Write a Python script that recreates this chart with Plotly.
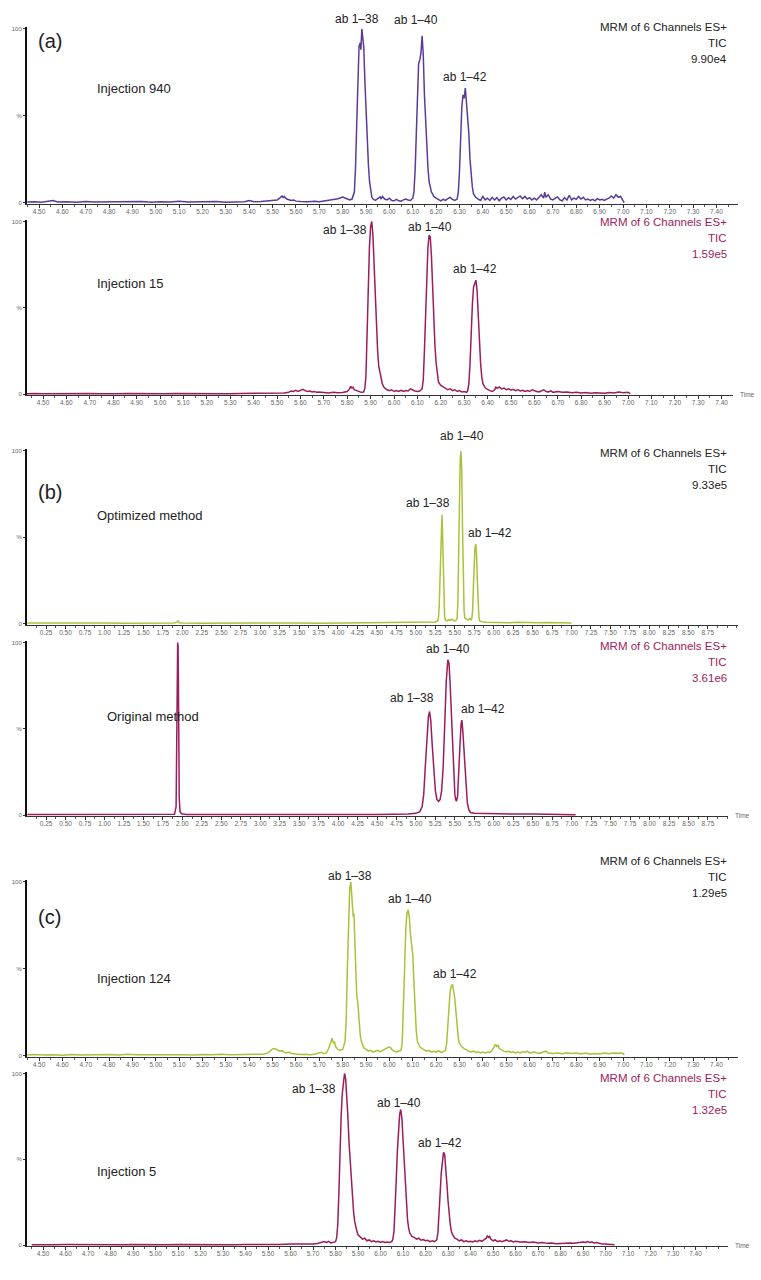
import plotly.graph_objects as go

W, H = 761, 1280
PURPLE = "#5b3b98"
MAGENTA = "#9c1c5c"
GREEN = "#a9c23a"
INK = "#222222"
FONT = "Liberation Sans, Arial, sans-serif"

# ---------------- tick labels ----------------
ac_ticks = [4.50, 4.60, 4.70, 4.80, 4.90, 5.00, 5.10, 5.20, 5.30, 5.40, 5.50, 5.60, 5.70, 5.80, 5.90,
            6.00, 6.10, 6.20, 6.30, 6.40, 6.50, 6.60, 6.70, 6.80, 6.90, 7.00, 7.10, 7.20, 7.30, 7.40]
b_ticks = [0.25, 0.50, 0.75, 1.00, 1.25, 1.50, 1.75, 2.00, 2.25, 2.50, 2.75, 3.00, 3.25, 3.50, 3.75,
           4.00, 4.25, 4.50, 4.75, 5.00, 5.25, 5.50, 5.75, 6.00, 6.25, 6.50, 6.75, 7.00, 7.25, 7.50,
           7.75, 8.00, 8.25, 8.50, 8.75]
y_tickvals = [0, 50, 100]
y_ticktext = ["0", "%", "100"]

# ---------------- chromatogram data (time [min], intensity [%]) ----------------
a1_points = [
    (4.45, 0.3), (4.48, 0.5), (4.51, 0.2), (4.54, 0.6), (4.56, 1.2), (4.58, 0.3), (4.62, 0.5), (4.66, 0.2),
    (4.70, 0.6), (4.74, 0.3), (4.78, 0.4), (4.82, 0.2), (4.86, 0.5), (4.90, 0.3), (4.94, 0.6), (4.98, 0.2),
    (5.02, 0.5), (5.06, 0.3), (5.10, 0.7), (5.14, 0.3), (5.18, 0.5), (5.22, 0.3), (5.26, 0.6), (5.30, 0.2),
    (5.34, 0.5), (5.38, 0.4), (5.40, 1.2), (5.42, 0.5), (5.45, 0.6), (5.48, 0.9), (5.50, 1.2), (5.52, 1.5),
    (5.53, 2.5), (5.54, 3.8), (5.545, 2.8), (5.55, 3.5), (5.56, 2.0), (5.57, 1.8), (5.58, 1.2), (5.59, 1.5),
    (5.60, 0.8), (5.62, 0.6), (5.65, 0.4), (5.68, 0.7), (5.70, 0.5), (5.72, 0.9), (5.74, 1.2), (5.76, 1.8),
    (5.78, 2.2), (5.80, 3.2), (5.81, 2.4), (5.82, 2.0), (5.83, 1.5), (5.84, 2.0), (5.85, 6), (5.855, 20),
    (5.86, 45), (5.865, 72), (5.87, 90), (5.875, 92), (5.878, 88), (5.882, 100), (5.886, 96), (5.89, 90),
    (5.895, 70), (5.90, 52), (5.905, 35), (5.91, 22), (5.915, 12), (5.92, 6), (5.925, 3), (5.93, 2),
    (5.94, 1.2), (5.95, 2.2), (5.96, 3.2), (5.965, 2.0), (5.97, 3.5), (5.98, 2.0), (5.99, 1.5), (6.00, 2.5),
    (6.01, 1.2), (6.02, 1.0), (6.03, 1.8), (6.04, 1.0), (6.05, 0.8), (6.06, 1.5), (6.07, 2.0), (6.08, 1.5),
    (6.09, 1.2), (6.10, 2.5), (6.105, 6), (6.11, 18), (6.115, 40), (6.12, 65), (6.125, 80), (6.13, 82),
    (6.135, 86), (6.14, 96), (6.145, 85), (6.15, 62), (6.155, 45), (6.16, 30), (6.165, 20), (6.17, 12),
    (6.175, 8), (6.18, 6), (6.185, 5), (6.19, 3.5), (6.20, 2.5), (6.21, 1.5), (6.22, 1.0), (6.23, 1.8),
    (6.24, 1.2), (6.25, 2.2), (6.26, 3.0), (6.27, 1.8), (6.28, 1.2), (6.29, 2.0), (6.295, 6), (6.30, 18),
    (6.305, 40), (6.31, 55), (6.315, 62), (6.32, 60), (6.325, 66), (6.33, 58), (6.335, 50), (6.34, 40),
    (6.345, 25), (6.35, 15), (6.355, 9), (6.36, 5), (6.37, 3), (6.38, 2), (6.39, 1.2), (6.40, 3.5),
    (6.41, 1.5), (6.42, 2.5), (6.43, 1.2), (6.44, 3.0), (6.45, 1.5), (6.46, 2.8), (6.47, 1.0), (6.48, 2.5),
    (6.49, 3.2), (6.50, 1.5), (6.51, 2.8), (6.52, 1.8), (6.53, 3.5), (6.54, 2.0), (6.55, 3.0), (6.56, 3.8),
    (6.57, 2.2), (6.58, 3.5), (6.59, 2.0), (6.60, 2.8), (6.61, 1.5), (6.62, 2.5), (6.63, 1.5), (6.64, 3.0),
    (6.65, 4.5), (6.66, 2.5), (6.665, 6.0), (6.67, 3.0), (6.68, 4.5), (6.69, 2.0), (6.70, 1.5), (6.71, 2.5),
    (6.72, 3.2), (6.73, 1.5), (6.74, 1.0), (6.75, 2.8), (6.76, 1.5), (6.77, 4.2), (6.78, 1.5), (6.79, 2.5),
    (6.80, 1.8), (6.81, 3.5), (6.82, 2.0), (6.83, 3.0), (6.84, 1.5), (6.85, 2.0), (6.86, 1.2), (6.87, 1.8),
    (6.88, 1.0), (6.89, 2.2), (6.90, 1.5), (6.91, 1.8), (6.92, 1.2), (6.93, 2.0), (6.94, 2.5), (6.95, 3.8),
    (6.96, 2.5), (6.97, 4.5), (6.98, 3.0), (6.99, 3.5), (7.00, 1.0), (7.005, 0),
]

a2_points = [
    (4.43, 0.2), (4.46, 0.4), (4.50, 0.2), (4.54, 0.3), (4.58, 0.2), (4.62, 0.4), (4.66, 0.2), (4.70, 0.3),
    (4.74, 0.2), (4.78, 0.4), (4.82, 0.2), (4.86, 0.3), (4.90, 0.2), (4.94, 0.4), (4.98, 0.3), (5.02, 0.2),
    (5.06, 0.4), (5.10, 0.3), (5.14, 0.2), (5.18, 0.4), (5.22, 0.2), (5.26, 0.3), (5.30, 0.2), (5.34, 0.4),
    (5.38, 0.5), (5.42, 0.3), (5.46, 0.5), (5.50, 0.4), (5.53, 0.6), (5.55, 1.0), (5.56, 1.8), (5.57, 1.5),
    (5.58, 2.2), (5.59, 1.6), (5.60, 2.0), (5.61, 2.8), (5.62, 2.0), (5.63, 1.5), (5.64, 1.8), (5.65, 1.2),
    (5.66, 1.5), (5.67, 1.0), (5.68, 1.2), (5.70, 0.8), (5.72, 0.6), (5.74, 1.0), (5.76, 0.7), (5.78, 0.9),
    (5.80, 1.5), (5.81, 3.0), (5.815, 4.5), (5.82, 3.5), (5.825, 4.0), (5.83, 2.5), (5.84, 2.0), (5.85, 1.5),
    (5.86, 1.0), (5.87, 1.2), (5.875, 3), (5.88, 10), (5.885, 30), (5.89, 60), (5.895, 85), (5.90, 97),
    (5.905, 100), (5.91, 92), (5.915, 75), (5.92, 55), (5.925, 38), (5.93, 25), (5.935, 16), (5.94, 12),
    (5.945, 9), (5.95, 6), (5.955, 4.5), (5.96, 3.5), (5.97, 2.5), (5.98, 2.0), (5.99, 2.5), (6.00, 1.5),
    (6.01, 2.0), (6.02, 1.5), (6.03, 2.2), (6.04, 1.5), (6.05, 2.0), (6.06, 1.8), (6.07, 3.0), (6.08, 2.2),
    (6.09, 1.8), (6.10, 1.5), (6.11, 1.8), (6.12, 3), (6.125, 8), (6.13, 25), (6.135, 50), (6.14, 72),
    (6.145, 85), (6.15, 92), (6.155, 91), (6.16, 80), (6.165, 60), (6.17, 42), (6.175, 28), (6.18, 18),
    (6.185, 11), (6.19, 7), (6.20, 5), (6.21, 4), (6.22, 3.2), (6.23, 2.5), (6.24, 3.0), (6.25, 2.0),
    (6.26, 2.5), (6.27, 1.5), (6.28, 2.0), (6.29, 1.2), (6.30, 1.5), (6.31, 1.0), (6.315, 2), (6.32, 6),
    (6.325, 18), (6.33, 38), (6.335, 52), (6.34, 62), (6.345, 64), (6.35, 66), (6.355, 60), (6.36, 45),
    (6.365, 30), (6.37, 18), (6.375, 10), (6.38, 6), (6.39, 3.5), (6.40, 2.5), (6.41, 2.0), (6.42, 1.5),
    (6.43, 2.5), (6.435, 4.0), (6.44, 3.5), (6.45, 4.0), (6.46, 3.0), (6.47, 3.5), (6.48, 2.5), (6.49, 3.0),
    (6.50, 2.2), (6.51, 2.8), (6.52, 2.0), (6.53, 2.5), (6.54, 1.8), (6.55, 2.2), (6.56, 1.5), (6.57, 2.0),
    (6.58, 1.5), (6.59, 2.5), (6.60, 1.8), (6.61, 1.5), (6.62, 1.2), (6.63, 2.0), (6.64, 2.5), (6.65, 1.5),
    (6.66, 1.2), (6.67, 1.8), (6.68, 1.0), (6.70, 1.5), (6.72, 1.0), (6.74, 1.2), (6.76, 0.8), (6.78, 1.0),
    (6.80, 0.6), (6.82, 0.9), (6.84, 0.5), (6.86, 0.8), (6.88, 0.6), (6.90, 0.5), (6.92, 0.9), (6.94, 0.6),
    (6.96, 1.2), (6.98, 0.8), (7.00, 1.0), (7.01, 0.3),
]

b1_points = [
    (0.01, 0.3), (0.25, 0.2), (0.50, 0.3), (0.75, 0.2), (1.00, 0.3), (1.25, 0.2), (1.50, 0.3), (1.75, 0.2),
    (1.90, 0.3), (1.93, 0.8), (1.945, 1.5), (1.96, 0.5), (2.00, 0.3), (2.25, 0.2), (2.50, 0.3), (2.75, 0.2),
    (3.00, 0.3), (3.25, 0.2), (3.50, 0.3), (3.75, 0.2), (4.00, 0.3), (4.25, 0.2), (4.50, 0.3), (4.75, 0.3),
    (5.00, 0.4), (5.10, 0.5), (5.20, 0.7), (5.25, 0.9), (5.28, 1.5), (5.29, 3), (5.30, 10), (5.31, 28),
    (5.32, 48), (5.33, 60), (5.336, 63), (5.34, 58), (5.35, 38), (5.36, 15), (5.37, 4), (5.38, 2.0),
    (5.40, 1.5), (5.42, 2.2), (5.44, 1.8), (5.46, 2.5), (5.48, 2.0), (5.50, 1.5), (5.52, 2.0), (5.53, 3),
    (5.54, 12), (5.55, 40), (5.56, 75), (5.57, 95), (5.58, 100), (5.59, 88), (5.60, 55), (5.61, 22),
    (5.62, 7), (5.63, 3), (5.65, 2.5), (5.67, 2.0), (5.69, 3.0), (5.71, 2.2), (5.72, 3), (5.73, 8),
    (5.74, 22), (5.75, 36), (5.76, 44), (5.77, 46), (5.78, 40), (5.79, 25), (5.80, 10), (5.81, 4),
    (5.82, 1.5), (5.85, 1.0), (5.90, 0.8), (6.00, 0.6), (6.10, 0.8), (6.20, 0.5), (6.30, 0.7), (6.40, 0.5),
    (6.50, 0.6), (6.60, 0.4), (6.70, 0.6), (6.80, 0.5), (6.90, 0.6), (7.00, 0.3),
]

b2_points = [
    (0.01, 0.3), (0.50, 0.3), (1.00, 0.3), (1.50, 0.3), (1.85, 0.3), (1.90, 0.5), (1.92, 5), (1.93, 45),
    (1.935, 85), (1.94, 100), (1.945, 98), (1.95, 75), (1.955, 35), (1.96, 10), (1.97, 2), (1.99, 0.8),
    (2.05, 0.4), (2.50, 0.3), (3.00, 0.3), (3.50, 0.3), (4.00, 0.3), (4.50, 0.4), (4.80, 0.5), (4.90, 0.7),
    (5.00, 1.0), (5.05, 2), (5.08, 5), (5.10, 12), (5.12, 28), (5.14, 45), (5.16, 57), (5.175, 60),
    (5.19, 55), (5.21, 40), (5.23, 25), (5.25, 14), (5.27, 9), (5.29, 8), (5.31, 9), (5.33, 14),
    (5.35, 28), (5.37, 52), (5.39, 78), (5.41, 90), (5.425, 88), (5.44, 75), (5.46, 50), (5.48, 25),
    (5.50, 12), (5.51, 9), (5.52, 8), (5.535, 11), (5.55, 22), (5.565, 40), (5.58, 53), (5.59, 55),
    (5.60, 50), (5.62, 36), (5.64, 18), (5.66, 7), (5.68, 3), (5.70, 1.5), (5.75, 1.0), (5.90, 0.8),
    (6.10, 0.7), (6.30, 0.6), (6.50, 0.6), (6.70, 0.5), (6.90, 0.5), (7.00, 0.4), (7.05, 0.2),
]

c1_points = [
    (4.45, 0.3), (4.48, 0.6), (4.52, 0.3), (4.56, 0.5), (4.60, 0.2), (4.64, 0.6), (4.68, 0.3), (4.72, 0.5),
    (4.76, 0.3), (4.80, 0.6), (4.84, 0.3), (4.88, 0.7), (4.92, 0.4), (4.96, 0.5), (5.00, 0.3), (5.04, 0.6),
    (5.08, 0.4), (5.12, 0.5), (5.16, 0.3), (5.20, 0.6), (5.24, 0.4), (5.28, 0.8), (5.32, 0.5), (5.36, 0.6),
    (5.40, 0.9), (5.42, 0.6), (5.44, 1.0), (5.46, 0.8), (5.48, 1.5), (5.49, 2.5), (5.50, 3.8), (5.51, 4.0),
    (5.52, 3.2), (5.53, 2.5), (5.54, 2.8), (5.55, 1.8), (5.56, 1.5), (5.57, 2.0), (5.58, 1.2), (5.60, 0.8),
    (5.62, 0.6), (5.64, 0.8), (5.66, 0.5), (5.68, 0.7), (5.70, 1.2), (5.71, 1.8), (5.72, 1.0), (5.73, 1.5),
    (5.74, 4), (5.75, 9), (5.755, 10), (5.76, 7), (5.765, 8), (5.77, 5), (5.78, 3.5), (5.79, 3),
    (5.80, 3.5), (5.81, 8), (5.815, 20), (5.82, 50), (5.825, 80), (5.83, 96), (5.835, 100), (5.84, 92),
    (5.845, 80), (5.848, 82), (5.852, 65), (5.856, 45), (5.86, 35), (5.865, 30), (5.87, 20), (5.875, 12),
    (5.88, 8), (5.885, 6), (5.89, 4.5), (5.90, 3.5), (5.91, 2.5), (5.92, 3.0), (5.93, 2.0), (5.94, 2.5),
    (5.95, 3.0), (5.96, 2.2), (5.97, 2.8), (5.98, 3.5), (5.99, 4.0), (6.00, 5.0), (6.005, 4.5), (6.01, 3.5),
    (6.02, 2.5), (6.03, 2.0), (6.04, 2.5), (6.05, 3), (6.055, 8), (6.06, 25), (6.065, 50), (6.07, 72),
    (6.075, 82), (6.08, 84), (6.085, 80), (6.09, 70), (6.095, 62), (6.10, 58), (6.105, 42), (6.11, 25),
    (6.115, 14), (6.12, 8), (6.13, 5), (6.14, 4), (6.15, 3), (6.16, 2.5), (6.17, 3.0), (6.18, 2.0),
    (6.19, 2.5), (6.20, 2.0), (6.21, 2.8), (6.22, 1.8), (6.23, 2.2), (6.24, 3), (6.245, 7), (6.25, 18),
    (6.255, 30), (6.26, 37), (6.265, 40), (6.27, 41), (6.275, 37), (6.28, 33), (6.285, 25), (6.29, 16),
    (6.295, 10), (6.30, 7), (6.31, 5), (6.32, 4), (6.33, 3), (6.34, 2.5), (6.35, 2.0), (6.36, 2.5),
    (6.37, 1.8), (6.38, 2.2), (6.39, 1.5), (6.40, 2.0), (6.41, 1.5), (6.42, 2.0), (6.43, 1.8), (6.44, 3),
    (6.45, 5.5), (6.455, 6.5), (6.46, 5), (6.465, 6), (6.47, 4), (6.48, 3), (6.49, 2.5), (6.50, 2.0),
    (6.51, 2.5), (6.52, 1.8), (6.53, 2.2), (6.54, 1.5), (6.55, 2.0), (6.56, 1.5), (6.57, 2.2), (6.58, 1.8),
    (6.59, 2.5), (6.60, 1.5), (6.62, 2.0), (6.64, 1.2), (6.66, 1.8), (6.67, 2.5), (6.68, 1.5), (6.70, 1.2),
    (6.72, 1.5), (6.74, 1.0), (6.76, 1.6), (6.78, 1.2), (6.80, 1.5), (6.82, 0.9), (6.84, 1.4), (6.86, 0.8),
    (6.88, 1.2), (6.90, 0.9), (6.92, 1.4), (6.94, 1.0), (6.96, 1.5), (6.98, 1.2), (7.00, 1.3), (7.005, 0.2),
]

c2_points = [
    (4.45, 0.2), (4.50, 0.4), (4.55, 0.2), (4.60, 0.3), (4.65, 0.2), (4.70, 0.4), (4.75, 0.2), (4.80, 0.3),
    (4.85, 0.2), (4.90, 0.4), (4.95, 0.2), (5.00, 0.3), (5.05, 0.2), (5.10, 0.4), (5.15, 0.3), (5.20, 0.2),
    (5.25, 0.4), (5.30, 0.3), (5.35, 0.2), (5.40, 0.4), (5.45, 0.3), (5.50, 0.5), (5.55, 0.3), (5.60, 0.6),
    (5.65, 0.4), (5.70, 0.6), (5.72, 0.9), (5.74, 1.5), (5.75, 2.0), (5.76, 1.5), (5.77, 2.2), (5.78, 1.2),
    (5.79, 1.5), (5.80, 2), (5.805, 4), (5.81, 12), (5.815, 30), (5.82, 55), (5.825, 75), (5.83, 88),
    (5.835, 96), (5.84, 100), (5.845, 97), (5.85, 88), (5.855, 75), (5.86, 60), (5.865, 48), (5.87, 38),
    (5.875, 28), (5.88, 20), (5.885, 14), (5.89, 10), (5.895, 8), (5.90, 6), (5.91, 4.5), (5.92, 3.5),
    (5.93, 4.0), (5.94, 2.5), (5.95, 3.0), (5.96, 2.0), (5.97, 2.5), (5.98, 1.8), (5.99, 2.2), (6.00, 1.5),
    (6.01, 2.0), (6.02, 1.5), (6.03, 1.8), (6.04, 1.5), (6.05, 2.0), (6.055, 3.5), (6.06, 8), (6.065, 20),
    (6.07, 38), (6.075, 55), (6.08, 68), (6.085, 76), (6.09, 79), (6.095, 74), (6.10, 62), (6.105, 48),
    (6.11, 35), (6.115, 24), (6.12, 15), (6.125, 10), (6.13, 7), (6.14, 5), (6.15, 4.5), (6.16, 3.5),
    (6.17, 4.0), (6.18, 2.8), (6.19, 3.2), (6.20, 2.5), (6.21, 2.8), (6.22, 2.0), (6.23, 2.5), (6.24, 2.0),
    (6.25, 3), (6.255, 7), (6.26, 16), (6.265, 30), (6.27, 42), (6.275, 50), (6.28, 54), (6.285, 53),
    (6.29, 46), (6.295, 36), (6.30, 26), (6.305, 18), (6.31, 12), (6.315, 8), (6.32, 6), (6.33, 4),
    (6.34, 3.5), (6.35, 2.5), (6.36, 3.0), (6.37, 2.0), (6.38, 2.5), (6.39, 2.0), (6.40, 2.2), (6.41, 1.8),
    (6.42, 2.5), (6.43, 2.0), (6.44, 2.8), (6.45, 2.2), (6.46, 3.0), (6.47, 4.0), (6.475, 5.5), (6.48, 4.5),
    (6.485, 5.0), (6.49, 3.5), (6.50, 2.5), (6.51, 3.0), (6.52, 2.0), (6.53, 2.5), (6.54, 2.0), (6.55, 2.5),
    (6.56, 3.0), (6.57, 2.2), (6.58, 2.5), (6.59, 1.8), (6.60, 2.2), (6.62, 1.8), (6.64, 2.0), (6.66, 1.5),
    (6.68, 1.8), (6.70, 1.2), (6.72, 1.5), (6.74, 1.0), (6.76, 1.2), (6.78, 0.8), (6.80, 1.0), (6.82, 0.8),
    (6.84, 1.2), (6.86, 1.0), (6.88, 1.5), (6.90, 1.8), (6.91, 1.5), (6.92, 2.0), (6.93, 1.5), (6.94, 1.8),
    (6.95, 1.2), (6.96, 1.5), (6.98, 0.8), (7.00, 0.6), (7.02, 0.3), (7.04, 0.2),
]

peak_names = ["ab 1\u201338", "ab 1\u201340", "ab 1\u201342"]
header = ["MRM of 6 Channels ES+", "TIC"]
scales = ["9.90e4", "1.59e5", "9.33e5", "3.61e6", "1.29e5", "1.32e5"]
samples = ["Injection 940", "Injection 15", "Optimized method", "Original method", "Injection 124", "Injection 5"]
letters = {0: "(a)", 2: "(b)", 4: "(c)"}

# ---------------- layout geometry (pixels) ----------------
panels = [
    dict(pts=a1_points, color=PURPLE, hdr=INK, x0=27, x1=738, xr=[4.4486, 7.4923], top=28, base=202,
         ticks=ac_ticks, minor=0.05, time=False, sx=95, sy=88, ly=40,
         labels=[(357, 18), (416, 19), (465, 76)], hy=26),
    dict(pts=a2_points, color=MAGENTA, hdr=MAGENTA, x0=27, x1=733, xr=[4.4316, 7.4487], top=221, base=394,
         ticks=ac_ticks, minor=0.05, time=True, sx=95, sy=283, ly=None,
         labels=[(345, 230), (430, 227), (475, 269)], hy=222),
    dict(pts=b1_points, color=GREEN, hdr=INK, x0=27, x1=738, xr=[0.005, 9.1388], top=451, base=624,
         ticks=b_ticks, minor=0.125, time=False, sx=95, sy=516, ly=492,
         labels=[(428, 503), (462, 436), (490, 533)], hy=453),
    dict(pts=b2_points, color=MAGENTA, hdr=MAGENTA, x0=27, x1=728, xr=[0.005, 9.0077], top=643, base=816,
         ticks=b_ticks, minor=0.125, time=True, sx=105, sy=717, ly=None,
         labels=[(412, 699), (448, 650), (483, 710)], hy=647),
    dict(pts=c1_points, color=GREEN, hdr=INK, x0=27, x1=738, xr=[4.4486, 7.4923], top=883, base=1057,
         ticks=ac_ticks, minor=0.05, time=False, sx=95, sy=980, ly=918,
         labels=[(350, 877), (410, 900), (455, 975)], hy=862),
    dict(pts=c2_points, color=MAGENTA, hdr=MAGENTA, x0=27, x1=728, xr=[4.4289, 7.5444], top=1075, base=1247,
         ticks=ac_ticks, minor=0.05, time=True, sx=95, sy=1173, ly=None,
         labels=[(314, 1091), (399, 1105), (440, 1145)], hy=1080),
]

YMIN, YMAX = -0.8, 101.0


def px(x):
    return x / W


def py(y):
    return 1 - y / H


fig = go.Figure()
annotations = []
layout_axes = {}

for i, p in enumerate(panels):
    n = "" if i == 0 else str(i + 1)
    s = (p["base"] - p["top"]) / 100.0
    d_bot = p["base"] - YMIN * s
    d_top = p["top"] - (YMAX - 100) * s
    t = [q[0] for q in p["pts"]]
    v = [q[1] for q in p["pts"]]
    fig.add_trace(go.Scatter(x=t, y=v, mode="lines", line=dict(color=p["color"], width=1.5),
                             xaxis="x" + n, yaxis="y" + n, showlegend=False, hoverinfo="skip"))
    layout_axes["xaxis" + n] = dict(
        domain=[px(p["x0"]), px(p["x1"])], range=p["xr"], anchor="y" + n,
        showline=True, linecolor="#333333", linewidth=1, showgrid=False, zeroline=False,
        tickmode="array", tickvals=p["ticks"], ticktext=["%.2f" % k for k in p["ticks"]],
        ticks="outside", ticklen=3, tickwidth=1, tickcolor="#333333", ticklabelstandoff=-2,
        tickfont=dict(size=6.5, color="#666666", family=FONT),
        minor=dict(dtick=p["minor"], tick0=0, ticks="outside", ticklen=2, tickcolor="#555555"),
    )
    layout_axes["yaxis" + n] = dict(
        domain=[py(d_bot), py(d_top)], range=[YMIN, YMAX], anchor="x" + n,
        showline=True, linecolor="#111111", linewidth=2, showgrid=False, zeroline=False,
        tickmode="array", tickvals=y_tickvals, ticktext=y_ticktext,
        ticks="outside", ticklen=2, tickcolor="#333333",
        tickfont=dict(size=6, color="#666666", family=FONT),
    )
    # header block (right aligned)
    for j, txt in enumerate(header + [scales[i]]):
        annotations.append(dict(x=px(729), y=py(p["hy"] + 16 * j), xref="paper", yref="paper",
                                text=txt, showarrow=False, xanchor="right", yanchor="middle",
                                font=dict(size=11.5, color=p["hdr"], family=FONT)))
    # sample name
    annotations.append(dict(x=px(p["sx"]), y=py(p["sy"]), xref="paper", yref="paper",
                            text=samples[i], showarrow=False, xanchor="left", yanchor="middle",
                            font=dict(size=13, color=INK, family=FONT)))
    # panel letter
    if i in letters:
        annotations.append(dict(x=px(36), y=py(p["ly"]), xref="paper", yref="paper",
                                text=letters[i], showarrow=False, xanchor="left", yanchor="middle",
                                font=dict(size=20, color=INK, family=FONT)))
    # peak labels
    for (lx, ly), name in zip(p["labels"], peak_names):
        annotations.append(dict(x=px(lx), y=py(ly), xref="paper", yref="paper",
                                text=name, showarrow=False, xanchor="center", yanchor="middle",
                                font=dict(size=12, color=INK, family=FONT)))
    if p["time"]:
        annotations.append(dict(x=px(p["x1"] + 5), y=py(p["base"]), xref="paper", yref="paper",
                                text="Time", showarrow=False, xanchor="left", yanchor="middle",
                                font=dict(size=6.5, color="#666666", family=FONT)))

fig.update_layout(width=W, height=H, margin=dict(l=0, r=0, t=0, b=0),
                  paper_bgcolor="white", plot_bgcolor="white",
                  annotations=annotations, **layout_axes)

fig.write_html("out.html", config={"displayModeBar": False},
               post_script="document.body.style.margin='0';document.body.style.overflow='hidden';")
